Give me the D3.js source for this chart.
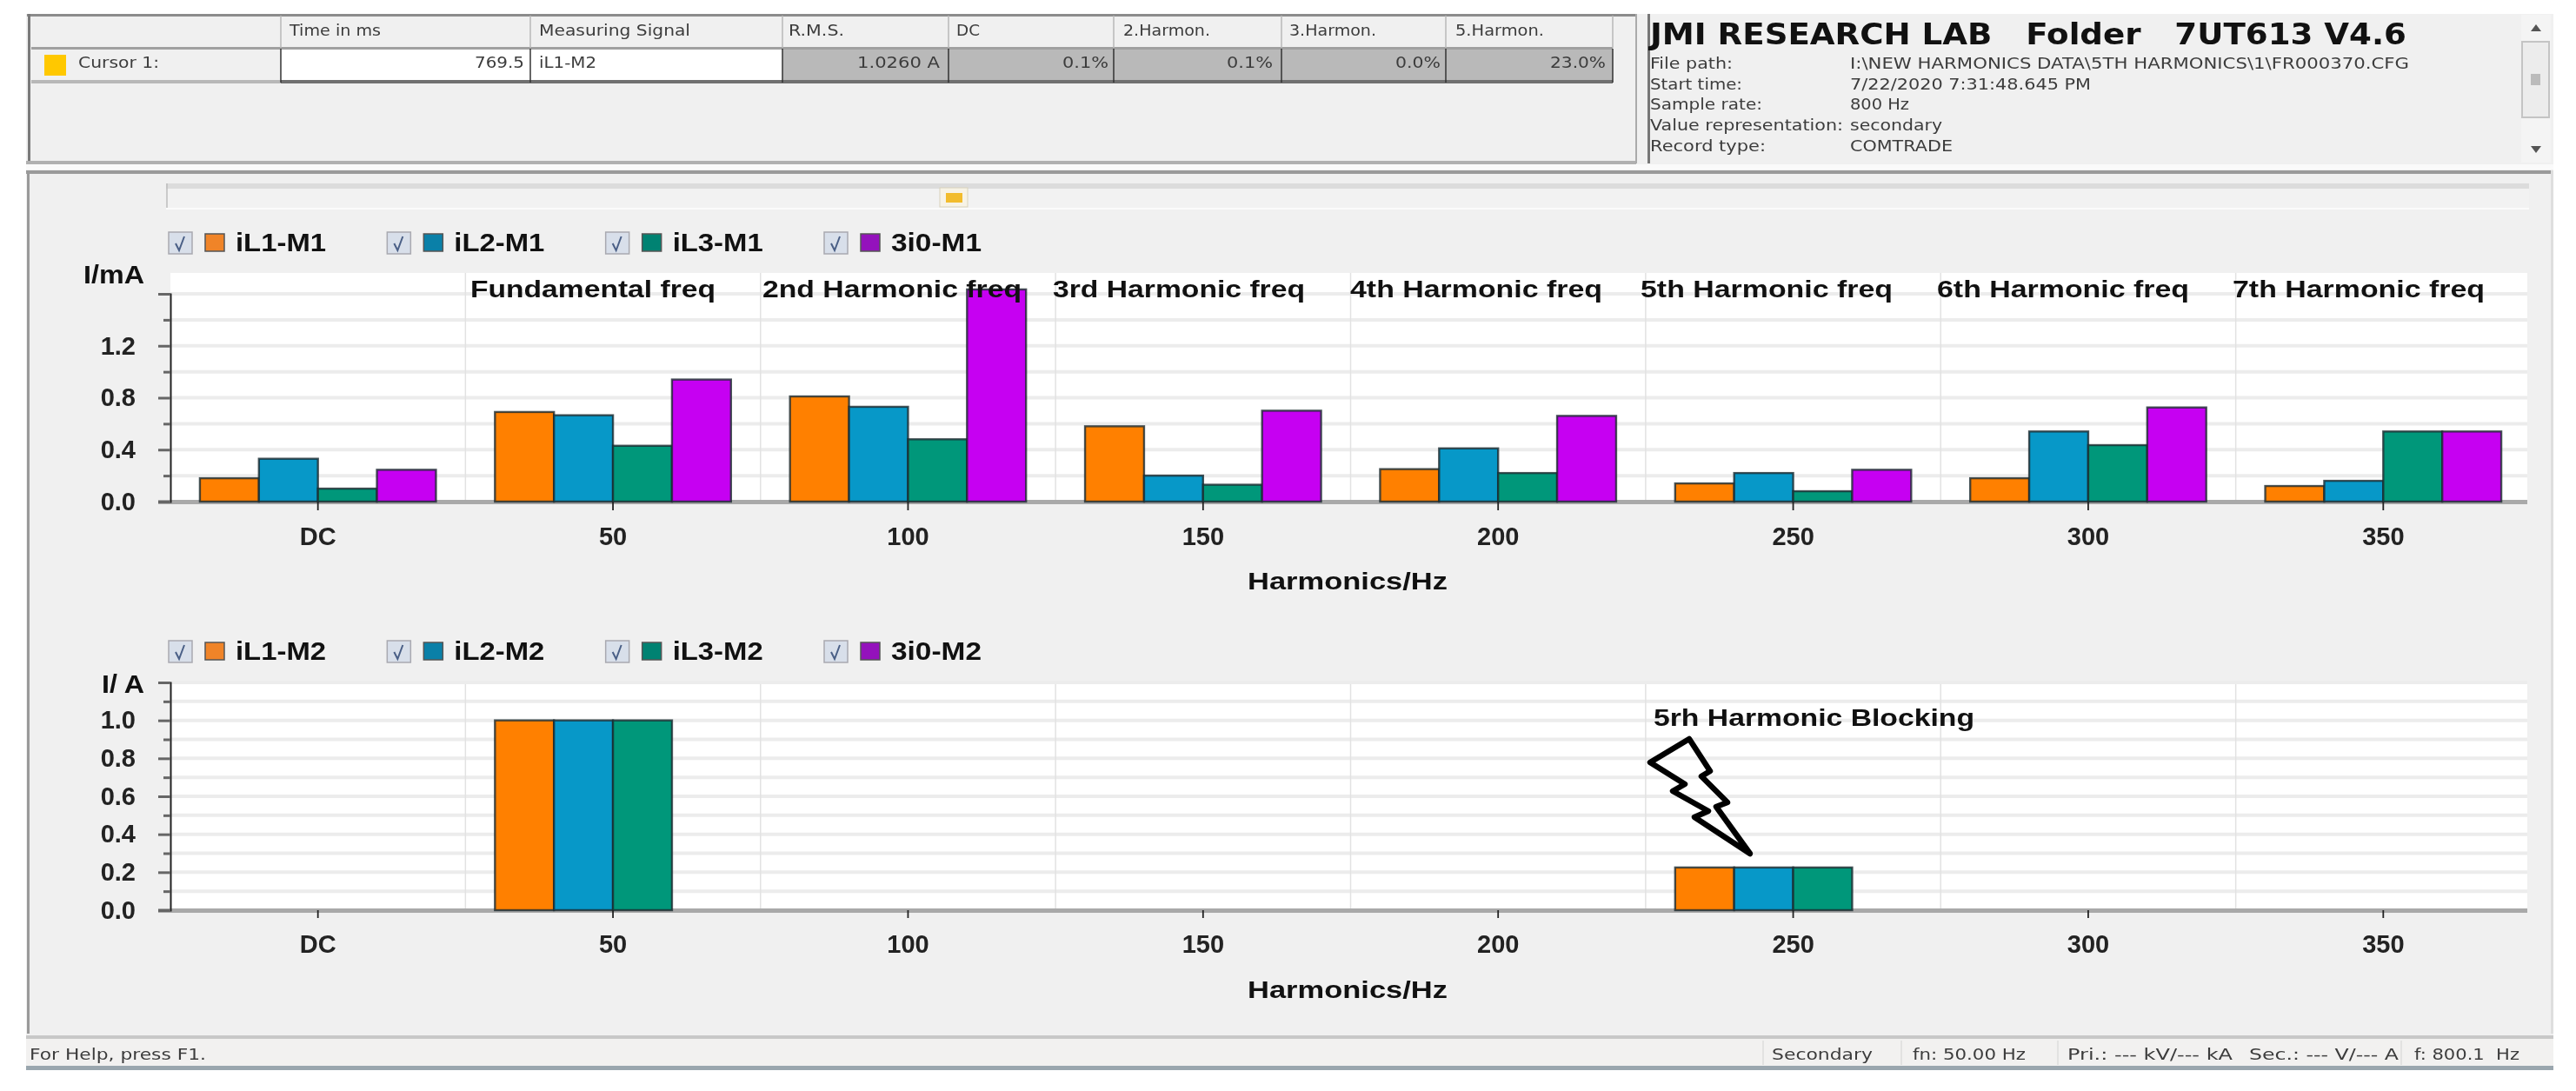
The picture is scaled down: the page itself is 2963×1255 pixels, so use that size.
<!DOCTYPE html>
<html>
<head>
<meta charset="utf-8">
<title>Harmonics</title>
<script src="https://cdn.jsdelivr.net/npm/d3@7"></script>
<style>
  html, body { margin: 0; padding: 0; background: #fff; }
  svg { display: block; filter: blur(0.7px); }
  text { font-family: "Liberation Sans", Arial, sans-serif; }
  .ui { fill: #3c3c3c; font-family: "DejaVu Sans", sans-serif; }
  .bold { fill: #111; font-weight: bold; }
</style>
</head>
<body>
<div id="chart"></div>
<script>
// chart data
const categories = ['DC', '50', '100', '150', '200', '250', '300', '350'];

const iL1M1 = [0.18, 0.69, 0.81, 0.58, 0.25, 0.14, 0.18, 0.12];
const iL2M1 = [0.33, 0.665, 0.73, 0.20, 0.41, 0.22, 0.54, 0.16];
const iL3M1 = [0.10, 0.43, 0.48, 0.13, 0.22, 0.08, 0.435, 0.54];
const i30M1 = [0.245, 0.94, 1.634, 0.70, 0.66, 0.245, 0.725, 0.54];

const iL1M2 = [0, 1.0, 0, 0, 0, 0.225, 0, 0];
const iL2M2 = [0, 1.0, 0, 0, 0, 0.225, 0, 0];
const iL3M2 = [0, 1.0, 0, 0, 0, 0.225, 0, 0];
const i30M2 = [0, 0, 0, 0, 0, 0, 0, 0];

const namesM1 = ['iL1-M1', 'iL2-M1', 'iL3-M1', '3i0-M1'];
const namesM2 = ['iL1-M2', 'iL2-M2', 'iL3-M2', '3i0-M2'];

const freqLabels = ['Fundamental freq', '2nd Harmonic freq', '3rd Harmonic freq', '4th Harmonic freq',
    '5th Harmonic freq', '6th Harmonic freq', '7th Harmonic freq'];

const tableHeaders = ['Time in ms', 'Measuring Signal', 'R.M.S.', 'DC', '2.Harmon.', '3.Harmon.', '5.Harmon.'];
const tableValues = ['769.5', 'iL1-M2', '1.0260 A', '0.1%', '0.1%', '0.0%', '23.0%'];

const infoLabels = ['File path:', 'Start time:', 'Sample rate:', 'Value representation:', 'Record type:'];
const infoValues = ['I:\\NEW HARMONICS DATA\\5TH HARMONICS\\1\\FR000370.CFG', '7/22/2020 7:31:48.645 PM',
    '800 Hz', 'secondary', 'COMTRADE'];

const barColors = ['#ff8000', '#0798c8', '#00977a', '#c600f2'];
const swatchColors = ['#f08428', '#0a80a8', '#008272', '#9412bc'];

const svg = d3.select('#chart').append('svg')
    .attr('width', 2963)
    .attr('height', 1255);

// helper for small text, squeezed to the measured width
function addText(parent, x, y, str, cls, size, width, anchor) {
    const t = parent.append('text')
        .attr('class', cls)
        .attr('x', x)
        .attr('y', y)
        .attr('dy', '0.35em')
        .attr('font-size', size)
        .attr('text-anchor', anchor || 'start')
        .style('font-size', size + 'px')
        .style('white-space', 'pre')
        .text(str);
    if (width) {
        t.attr('textLength', width).attr('lengthAdjust', 'spacingAndGlyphs');
    }
    return t;
}

function drawWindow() {
    svg.append('rect').attr('x', 30).attr('y', 16).attr('width', 2907).attr('height', 1215).attr('fill', '#f0f0f0');

    // top pane frame
    svg.append('rect').attr('x', 31).attr('y', 16).attr('width', 1851).attr('height', 3).attr('fill', '#8c8c8c');
    svg.append('rect').attr('x', 32).attr('y', 16).attr('width', 3).attr('height', 170).attr('fill', '#7a7a7a');
    svg.append('rect').attr('x', 30).attr('y', 185).attr('width', 1852).attr('height', 4).attr('fill', '#b0b0b0');
    svg.append('rect').attr('x', 1881).attr('y', 16).attr('width', 2).attr('height', 172).attr('fill', '#aaaaaa');
    svg.append('rect').attr('x', 1895).attr('y', 16).attr('width', 3).attr('height', 172).attr('fill', '#777777');
    svg.append('rect').attr('x', 30).attr('y', 189).attr('width', 2907).attr('height', 6).attr('fill', '#fafafa');

    // bottom pane frame
    svg.append('rect').attr('x', 30).attr('y', 196).attr('width', 2907).attr('height', 4).attr('fill', '#9a9a9a');
    svg.append('rect').attr('x', 31).attr('y', 196).attr('width', 3).attr('height', 993).attr('fill', '#9a9a9a');
    svg.append('rect').attr('x', 2934).attr('y', 196).attr('width', 3).attr('height', 993).attr('fill', '#dedede');

    // table
    const colX = [323, 610, 900, 1091, 1281, 1474, 1663, 1855];
    const textLeft = [333, 620, 907, 1100, 1292, 1483, 1674];
    const headWidth = [105, 174, 64, 27, 100, 100, 102];
    const valueRight = [603, null, 1081, 1275, 1464, 1657, 1847];
    const valueWidth = [57, 66, 95, 53, 53, 52, 64];

    svg.append('rect').attr('x', 323).attr('y', 57).attr('width', 577).attr('height', 36).attr('fill', '#fff');
    svg.append('rect').attr('x', 900).attr('y', 57).attr('width', 955).attr('height', 36).attr('fill', '#b9b9b9');
    svg.append('rect').attr('x', 36).attr('y', 54).attr('width', 1819).attr('height', 3).attr('fill', '#a0a0a0');
    svg.append('rect').attr('x', 36).attr('y', 92).attr('width', 287).attr('height', 4).attr('fill', '#b8b8b8');
    svg.append('rect').attr('x', 323).attr('y', 92).attr('width', 1532).attr('height', 4).attr('fill', '#707070');
    svg.selectAll('.col-head').data(colX).enter().append('line')
        .attr('x1', d => d).attr('x2', d => d).attr('y1', 18).attr('y2', 55)
        .attr('stroke', '#b8b8b8').attr('stroke-width', 1.5);
    svg.selectAll('.col-cell').data(colX).enter().append('line')
        .attr('x1', d => d).attr('x2', d => d).attr('y1', 56).attr('y2', 95)
        .attr('stroke', '#333').attr('stroke-width', 1.5);

    tableHeaders.forEach((h, i) => addText(svg, textLeft[i], 35, h, 'ui', 18, headWidth[i]));
    tableValues.forEach((v, i) => {
        if (valueRight[i]) {
            addText(svg, valueRight[i] - valueWidth[i], 72, v, 'ui', 18, valueWidth[i]);
        } else {
            addText(svg, textLeft[i], 72, v, 'ui', 18, valueWidth[i]);
        }
    });

    svg.append('rect').attr('x', 51).attr('y', 63).attr('width', 25).attr('height', 24).attr('fill', '#ffc800');
    addText(svg, 90, 72, 'Cursor 1:', 'ui', 18, 93);

    // info pane
    addText(svg, 1898, 39, 'JMI RESEARCH LAB   Folder   7UT613 V4.6', 'bold', 34, 870)
        .style('font-family', '"DejaVu Sans", sans-serif');
    const infoY = [73, 97, 120, 144, 168];
    const labelWidth = [95, 106, 129, 222, 133];
    const infoWidth = [643, 277, 68, 106, 118];
    infoLabels.forEach((l, i) => addText(svg, 1898, infoY[i], l, 'ui', 18, labelWidth[i]));
    infoValues.forEach((v, i) => addText(svg, 2128, infoY[i], v, 'ui', 18, infoWidth[i]));

    // scrollbar
    svg.append('rect').attr('x', 2900).attr('y', 17).attr('width', 34).attr('height', 170).attr('fill', '#f4f4f4');
    svg.append('rect').attr('x', 2901).attr('y', 48).attr('width', 31).attr('height', 87)
        .attr('fill', '#ececec').attr('stroke', '#c4c4c4').attr('stroke-width', 2);
    svg.append('path').attr('d', 'M2917 28L2911 36L2923 36Z').attr('fill', '#555');
    svg.append('path').attr('d', 'M2917 176L2911 168L2923 168Z').attr('fill', '#555');
    svg.append('rect').attr('x', 2911).attr('y', 85).attr('width', 11).attr('height', 13).attr('fill', '#bbbbbb');

    // slider above the charts
    svg.append('rect').attr('x', 191).attr('y', 211).attr('width', 2718).attr('height', 6).attr('fill', '#dcdcdc');
    svg.append('rect').attr('x', 191).attr('y', 217).attr('width', 2718).attr('height', 23).attr('fill', '#f2f2f2');
    svg.append('line').attr('x1', 192).attr('x2', 192).attr('y1', 211).attr('y2', 240).attr('stroke', '#bdbdbd').attr('stroke-width', 1.5);
    svg.append('rect').attr('x', 191).attr('y', 239).attr('width', 2718).attr('height', 2).attr('fill', '#fbfbfb');
    svg.append('rect').attr('x', 1081).attr('y', 216).attr('width', 32).attr('height', 22)
        .attr('fill', '#f7f3e6').attr('stroke', '#d8d2bc');
    svg.append('rect').attr('x', 1088).attr('y', 222).attr('width', 19).attr('height', 11).attr('fill', '#f2bc2c');

    // status bar
    svg.append('rect').attr('x', 30).attr('y', 1191).attr('width', 2907).attr('height', 4).attr('fill', '#c8c8c8');
    svg.append('rect').attr('x', 30).attr('y', 1195).attr('width', 2907).attr('height', 31).attr('fill', '#f2f1f0');
    svg.append('rect').attr('x', 30).attr('y', 1226).attr('width', 2907).attr('height', 5).attr('fill', '#9aa6ae');
    addText(svg, 34, 1213, 'For Help, press F1.', 'ui', 18, 203);
    const statusLabels = ['Secondary', 'fn: 50.00 Hz', 'Pri.: --- kV/--- kA', 'Sec.: --- V/--- A', 'f: 800.1  Hz'];
    const statusX = [2038, 2200, 2378, 2587, 2777];
    const statusW = [116, 130, 190, 172, 121];
    statusLabels.forEach((s, i) => addText(svg, statusX[i], 1213, s, 'ui', 18, statusW[i]));
    [2028, 2187, 2367, 2762].forEach(x => {
        svg.append('line').attr('x1', x).attr('x2', x).attr('y1', 1197).attr('y2', 1225).attr('stroke', '#dcdcdc').attr('stroke-width', 1.5);
    });
}

function drawLegend(names, yCenter) {
    const legendX = d3.scalePoint().domain(names).range([194, 948]);
    names.forEach((name, i) => {
        const g = svg.append('g').attr('transform', `translate(${legendX(name)},${yCenter})`);
        g.append('rect').attr('x', 0).attr('y', -12).attr('width', 27).attr('height', 25)
            .attr('fill', '#d8dfea').attr('stroke', '#a9a9b0').attr('stroke-width', 1.5);
        g.append('path').attr('d', 'M8 1L12 9L18 -7').attr('fill', 'none')
            .attr('stroke', '#4a5f86').attr('stroke-width', 2);
        g.append('rect').attr('x', 42).attr('y', -10).attr('width', 22).attr('height', 20)
            .attr('fill', swatchColors[i]).attr('stroke', '#555').attr('stroke-width', 1.5);
        addText(g, 77, 0, name, 'bold', 29, 104);
    });
}

function drawChart(opts) {
    const { series, top, bottom, yMax, yTop, majors, minors, tickEnd, unit, unitX, unitW, unitY, titleY } = opts;
    const left = 196, right = 2907, fullRight = 2911;

    const x0 = d3.scaleBand().domain(categories).range([left, fullRight]);
    const x1 = d3.scaleBand().domain(d3.range(series.length))
        .range([x0.bandwidth() * 0.1, x0.bandwidth() * 0.9]);
    const y = d3.scaleLinear().domain([0, yMax]).range([bottom, yTop]);

    svg.append('rect').attr('x', left).attr('y', top).attr('width', right - left).attr('height', bottom - top).attr('fill', '#fff');

    // horizontal grid, every major and minor tick
    svg.append('g').selectAll('line').data(majors.concat(minors)).enter().append('line')
        .attr('x1', left).attr('x2', right)
        .attr('y1', d => y(d)).attr('y2', d => y(d))
        .attr('stroke', '#ececec').attr('stroke-width', 4);

    // vertical grid between the groups
    svg.append('g').selectAll('line').data(categories.slice(1)).enter().append('line')
        .attr('x1', d => x0(d)).attr('x2', d => x0(d))
        .attr('y1', top).attr('y2', bottom)
        .attr('stroke', '#e2e2e2').attr('stroke-width', 1.5);

    // baseline
    svg.append('rect').attr('x', left - 14).attr('y', bottom - 2).attr('width', right - left + 14).attr('height', 5).attr('fill', '#a9a9a9');

    // bars
    series.forEach((values, s) => {
        svg.append('g').selectAll('rect')
            .data(values.map((v, i) => ({ cat: categories[i], v: v })).filter(d => d.v > 0))
            .enter().append('rect')
            .attr('x', d => x0(d.cat) + x1(s))
            .attr('y', d => y(d.v))
            .attr('width', x1.bandwidth())
            .attr('height', d => y(0) - y(d.v))
            .attr('fill', barColors[s])
            .attr('stroke', '#1c2a30')
            .attr('stroke-opacity', 0.8)
            .attr('stroke-width', 2.4);
    });

    // y axis with major ticks, then the short minor ones
    const yAxis = d3.axisLeft(y)
        .tickValues(majors)
        .tickSize(14)
        .tickPadding(26)
        .tickFormat(d => opts.labels.includes(d) ? d3.format('.1f')(d) : '');
    const yG = svg.append('g').attr('transform', `translate(${left},0)`).call(yAxis);
    yG.select('.domain').attr('stroke', '#222').attr('stroke-width', 2);
    yG.selectAll('.tick line').attr('stroke', '#666').attr('stroke-width', 3);
    yG.selectAll('.tick text').attr('class', 'bold').style('font-size', '29px').style('fill', '#222');

    const yMinor = d3.axisLeft(y).tickValues(minors).tickSize(8).tickFormat('');
    const yMinorG = svg.append('g').attr('transform', `translate(${left},0)`).call(yMinor);
    yMinorG.select('.domain').remove();
    yMinorG.selectAll('.tick line').attr('stroke', '#666').attr('stroke-width', 3);

    // x axis, ticks on band centres
    const xAxis = d3.axisBottom(x0).tickSize(tickEnd - bottom).tickPadding(19);
    const xG = svg.append('g').attr('transform', `translate(0,${bottom})`).call(xAxis);
    xG.select('.domain').remove();
    xG.selectAll('.tick line').attr('stroke', '#222').attr('stroke-width', 1.8);
    xG.selectAll('.tick text').attr('class', 'bold').style('font-size', '29px').style('fill', '#222');

    addText(svg, unitX, unitY, unit, 'bold', 29, unitW);
    addText(svg, 1550, titleY, 'Harmonics/Hz', 'bold', 28, 230, 'middle');
}

drawWindow();

drawLegend(namesM1, 279);
drawChart({
    series: [iL1M1, iL2M1, iL3M1, i30M1],
    top: 314, bottom: 577, yMax: 1.6, yTop: 338,
    majors: [0, 0.4, 0.8, 1.2, 1.6],
    minors: [0.2, 0.6, 1.0, 1.4],
    labels: [0, 0.4, 0.8, 1.2],
    tickEnd: 587,
    unit: 'I/mA', unitX: 96, unitW: 70, unitY: 316,
    titleY: 668
});

// labels above the groups of the upper chart
const freqLeft = [541, 877, 1211, 1553, 1887, 2228, 2568];
freqLabels.forEach((f, i) => addText(svg, freqLeft[i], 332, f, 'bold', 28, i === 0 ? 282 : (i === 1 ? 298 : 290)));

drawLegend(namesM2, 749);
drawChart({
    series: [iL1M2, iL2M2, iL3M2, i30M2],
    top: 787, bottom: 1047, yMax: 1.2, yTop: 785,
    majors: [0, 0.2, 0.4, 0.6, 0.8, 1.0, 1.2],
    minors: [0.1, 0.3, 0.5, 0.7, 0.9, 1.1],
    labels: [0, 0.2, 0.4, 0.6, 0.8, 1.0],
    tickEnd: 1056,
    unit: 'I/ A', unitX: 117, unitW: 49, unitY: 787,
    titleY: 1138
});

// hand drawn annotation on the lower chart
addText(svg, 1902, 825, '5rh Harmonic Blocking', 'bold', 28, 369);
svg.append('path')
    .attr('d', 'M1943 850L1898 877L1938 902L1924 910L1965 933L1949 940L2013 982L1974 928L1987 923L1957 893L1967 887Z')
    .attr('fill', 'none')
    .attr('stroke', '#000')
    .attr('stroke-width', 6.5)
    .attr('stroke-linejoin', 'round');
</script>
</body>
</html>
